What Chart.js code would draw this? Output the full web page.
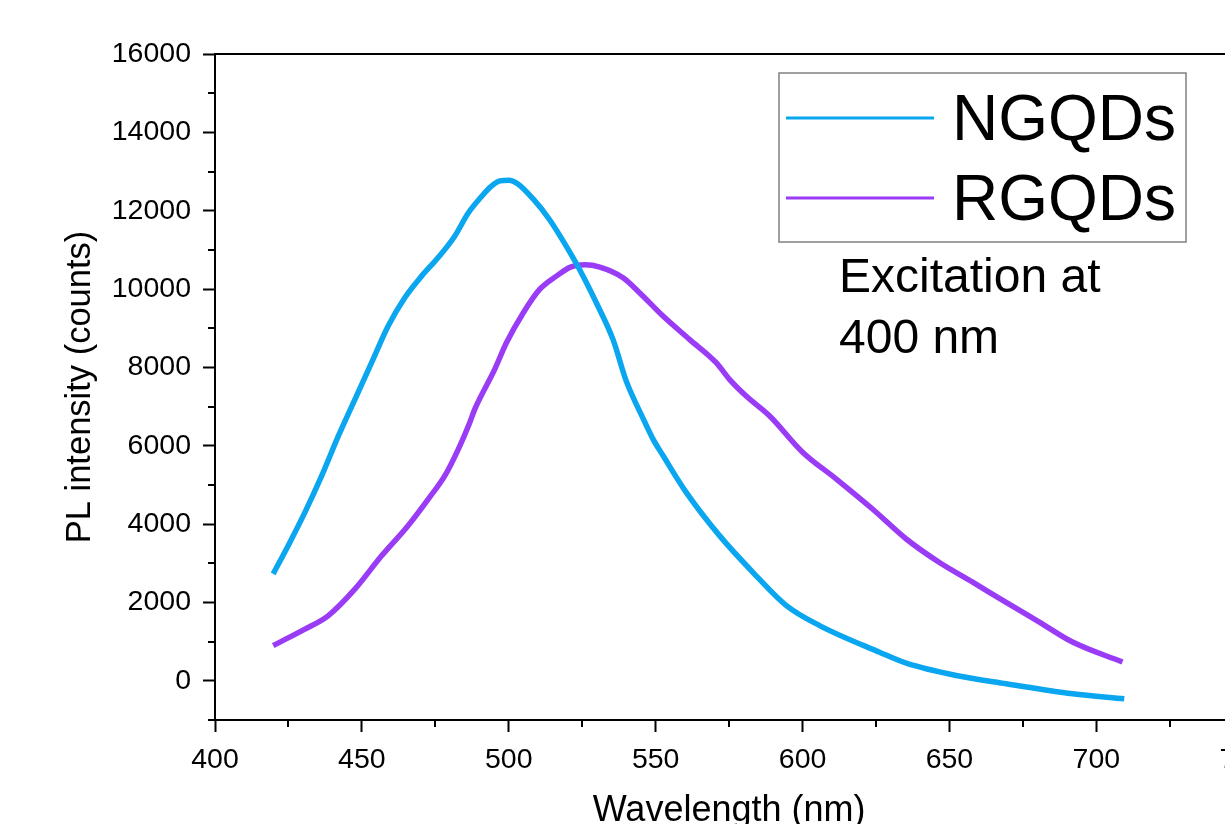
<!DOCTYPE html>
<html>
<head>
<meta charset="utf-8">
<script src="https://cdn.jsdelivr.net/npm/chart.js@4/dist/chart.umd.min.js"></script>
<style>
  html, body { margin: 0; padding: 0; overflow: hidden; background: #fff; }
</style>
</head>
<body>
<canvas id="myChart" width="1278" height="845"></canvas>
<script>
const ngqdWavelength = [419.8, 424.9, 430.6, 436.3, 442.0, 447.6, 453.3, 458.9, 464.6, 470.3, 475.9, 481.6, 486.2, 490.7, 494.0, 497.0, 500.0, 503.0, 508.3, 513.9, 519.6, 524.1, 529.8, 535.5, 540.0, 545.7, 549.1, 552.5, 560.4, 571.8, 583.1, 594.5, 605.8, 626.2, 635.3, 652.3, 669.3, 691.9, 709.5];
const ngqdCounts = [2730, 3450, 4300, 5230, 6250, 7180, 8120, 9050, 9780, 10330, 10800, 11350, 11940, 12360, 12620, 12760, 12780, 12690, 12300, 11770, 11090, 10500, 9650, 8710, 7650, 6700, 6170, 5750, 4810, 3700, 2770, 1920, 1410, 730, 450, 135, -75, -330, -460];

const rgqdWavelength = [419.8, 430.6, 438.5, 447.6, 456.7, 465.7, 472.6, 478.2, 482.8, 486.7, 488.4, 495.2, 499.2, 504.9, 510.5, 516.2, 521.0, 526.0, 531.0, 538.9, 544.6, 552.5, 561.6, 570.6, 575.2, 580.8, 588.8, 600.1, 611.5, 623.9, 635.3, 646.6, 657.9, 669.3, 680.6, 691.9, 708.9];
const rgqdCounts = [900, 1320, 1660, 2340, 3190, 3960, 4640, 5230, 5910, 6590, 6930, 7950, 8630, 9390, 9990, 10330, 10560, 10620, 10560, 10290, 9900, 9310, 8710, 8120, 7690, 7270, 6760, 5830, 5150, 4380, 3620, 3020, 2520, 2000, 1500, 990, 480];

const xMajorTicks = [400, 450, 500, 550, 600, 650, 700, 750];
const yMajorTicks = [0, 2000, 4000, 6000, 8000, 10000, 12000, 14000, 16000];
const xRange = [400, 750];
const yRange = [-1000, 16000];

const seriesLabels = ['NGQDs', 'RGQDs'];
const seriesColors = ['#0aa6ef', '#9a3cf6'];
const noteLines = ['Excitation at', '400 nm'];

const FONT = '"Liberation Sans", Arial, sans-serif';

function toPoints(xs, ys) {
  return xs.map((x, i) => ({ x: x, y: ys[i] }));
}

function midpoints(ticks) {
  const out = [];
  for (let i = 0; i < ticks.length - 1; i++) {
    out.push((ticks[i] + ticks[i + 1]) / 2);
  }
  return out;
}

// short minor ticks between the labelled ones
const minorTicks = {
  id: 'minorTicks',
  afterDraw(chart) {
    const ctx = chart.ctx;
    const area = chart.chartArea;
    const xs = chart.scales.x;
    const ys = chart.scales.y;
    ctx.save();
    ctx.strokeStyle = '#000';
    ctx.lineWidth = 2;
    ctx.beginPath();
    midpoints(xMajorTicks).forEach(v => {
      const px = Math.round(xs.getPixelForValue(v));
      ctx.moveTo(px, area.bottom);
      ctx.lineTo(px, area.bottom + 7);
    });
    [yRange[0]].concat(midpoints(yMajorTicks)).forEach(v => {
      const py = Math.round(ys.getPixelForValue(v));
      ctx.moveTo(area.left, py);
      ctx.lineTo(area.left - 7, py);
    });
    ctx.stroke();
    ctx.restore();
  }
};

// boxed legend and the excitation note inside the plot
const boxLegend = {
  id: 'boxLegend',
  afterDraw(chart) {
    const ctx = chart.ctx;
    const area = chart.chartArea;
    const bx = area.left + 564;
    const by = area.top + 19;
    ctx.save();
    ctx.strokeStyle = '#808080';
    ctx.lineWidth = 1.5;
    ctx.strokeRect(bx, by, 407, 169);

    ctx.font = '64px ' + FONT;
    ctx.textAlign = 'left';
    ctx.textBaseline = 'alphabetic';
    chart.data.datasets.forEach((ds, i) => {
      const ly = by + 45 + i * 80;
      ctx.strokeStyle = ds.borderColor;
      ctx.lineWidth = 3;
      ctx.beginPath();
      ctx.moveTo(bx + 7, ly);
      ctx.lineTo(bx + 155, ly);
      ctx.stroke();
      ctx.fillStyle = '#000';
      ctx.fillText(ds.label, bx + 173, ly + 22);
    });

    ctx.font = '48px ' + FONT;
    noteLines.forEach((t, i) => {
      ctx.fillText(t, area.left + 624, area.top + 238 + i * 61);
    });
    ctx.restore();
  }
};

const ctx = document.getElementById('myChart').getContext('2d');
const chart = new Chart(ctx, {
  type: 'line',
  data: {
    datasets: [
      {
        label: seriesLabels[0],
        data: toPoints(ngqdWavelength, ngqdCounts),
        borderColor: seriesColors[0],
        borderWidth: 5.5,
        pointRadius: 0,
        cubicInterpolationMode: 'monotone',
        fill: false
      },
      {
        label: seriesLabels[1],
        data: toPoints(rgqdWavelength, rgqdCounts),
        borderColor: seriesColors[1],
        borderWidth: 5.5,
        pointRadius: 0,
        cubicInterpolationMode: 'monotone',
        fill: false
      }
    ]
  },
  options: {
    responsive: false,
    animation: false,
    devicePixelRatio: 1,
    layout: { padding: { top: 54, right: 30, left: 0, bottom: 0 } },
    plugins: {
      legend: { display: false },
      tooltip: { enabled: false }
    },
    scales: {
      x: {
        type: 'linear',
        min: xRange[0],
        max: xRange[1],
        afterBuildTicks: (s) => { s.ticks = xMajorTicks.map(v => ({ value: v })); },
        afterFit: (s) => { s.height = 125; },
        ticks: { color: '#000', font: { family: FONT, size: 28.5 }, padding: 11, maxRotation: 0, callback: (v) => String(v) },
        grid: { drawOnChartArea: false, tickLength: 12, tickColor: '#000', tickWidth: 2 },
        border: { display: true, color: '#000', width: 2 },
        title: {
          display: true,
          text: 'Wavelength (nm)',
          color: '#000',
          font: { family: FONT, size: 36 },
          padding: { top: 0, bottom: 12 }
        }
      },
      xTop: {
        type: 'linear',
        position: 'top',
        min: xRange[0],
        max: xRange[1],
        afterFit: (s) => { s.height = 0; },
        ticks: { display: false },
        grid: { display: false },
        border: { display: true, color: '#000', width: 2 }
      },
      y: {
        type: 'linear',
        min: yRange[0],
        max: yRange[1],
        afterBuildTicks: (s) => { s.ticks = yMajorTicks.map(v => ({ value: v })); },
        afterFit: (s) => { s.width = 215; },
        ticks: { color: '#000', font: { family: FONT, size: 28.5 }, padding: 12, callback: (v) => String(v) },
        grid: { drawOnChartArea: false, tickLength: 12, tickColor: '#000', tickWidth: 2 },
        border: { display: true, color: '#000', width: 2 },
        title: {
          display: true,
          text: 'PL intensity (counts)',
          color: '#000',
          font: { family: FONT, size: 34.5 },
          padding: { top: 60, bottom: 0 }
        }
      }
    }
  },
  plugins: [minorTicks, boxLegend]
});
</script>
</body>
</html>
